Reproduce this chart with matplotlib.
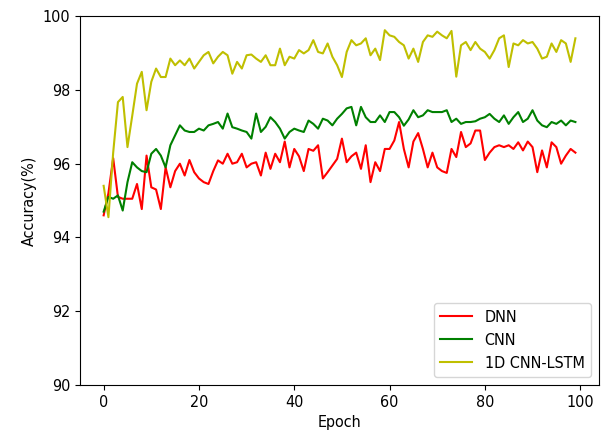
import numpy as np
import matplotlib
matplotlib.use("Agg")
import matplotlib.pyplot as plt

# =========================
# DATA (per epoch 0..99)
# =========================
epochs = np.arange(100)

dnn_acc = [
    94.60, 95.20, 96.15, 95.10, 95.05, 95.05, 95.05, 95.45, 94.77, 96.22,
    95.36, 95.30, 94.77, 95.90, 95.36, 95.80, 96.00, 95.68, 96.10, 95.77,
    95.60, 95.50, 95.45, 95.80, 96.09, 96.00, 96.27, 96.00, 96.04, 96.27,
    95.90, 96.00, 96.04, 95.68, 96.30, 95.86, 96.27, 96.04, 96.60, 95.90,
    96.40, 96.20, 95.80, 96.40, 96.35, 96.50, 95.60, 95.77, 95.95, 96.13,
    96.68, 96.04, 96.20, 96.30, 95.86, 96.50, 95.50, 96.04, 95.80, 96.40,
    96.40, 96.63, 97.13, 96.40, 95.90, 96.60, 96.83, 96.40, 95.90, 96.30,
    95.90, 95.80, 95.75, 96.40, 96.18, 96.86, 96.45, 96.55, 96.90, 96.90,
    96.10, 96.30, 96.45, 96.50, 96.45, 96.50, 96.40, 96.58, 96.36, 96.60,
    96.45, 95.77, 96.36, 95.90, 96.58, 96.45, 96.00, 96.22, 96.40, 96.30,
]

cnn_acc = [
    94.70, 95.10, 95.05, 95.14, 94.73, 95.50, 96.04, 95.90, 95.80, 95.77,
    96.27, 96.40, 96.22, 95.90, 96.50, 96.77, 97.04, 96.90, 96.86, 96.86,
    96.95, 96.90, 97.04, 97.08, 97.13, 96.95, 97.36, 96.99, 96.95, 96.90,
    96.86, 96.68, 97.36, 96.86, 97.00, 97.26, 97.13, 96.95, 96.68, 96.86,
    96.95, 96.90, 96.86, 97.17, 97.08, 96.95, 97.22, 97.17, 97.04, 97.22,
    97.35, 97.50, 97.54, 97.04, 97.54, 97.26, 97.13, 97.13, 97.31, 97.13,
    97.40, 97.40, 97.26, 97.03, 97.20, 97.45, 97.26, 97.31, 97.45, 97.40,
    97.40, 97.40, 97.45, 97.13, 97.22, 97.08, 97.13, 97.13, 97.15, 97.22,
    97.26, 97.35, 97.22, 97.13, 97.31, 97.08, 97.26, 97.40, 97.13, 97.22,
    97.45, 97.17, 97.04, 96.99, 97.13, 97.08, 97.17, 97.04, 97.17, 97.13,
]

cnn_lstm_acc = [
    95.40, 94.55, 96.30, 97.67, 97.81, 96.45, 97.30, 98.17, 98.49, 97.45,
    98.22, 98.58, 98.35, 98.35, 98.85, 98.67, 98.80, 98.67, 98.85, 98.58,
    98.76, 98.94, 99.03, 98.72, 98.90, 99.03, 98.94, 98.44, 98.76, 98.58,
    98.94, 98.96, 98.85, 98.76, 98.94, 98.67, 98.67, 99.12, 98.67, 98.90,
    98.85, 99.08, 98.99, 99.08, 99.35, 99.03, 98.99, 99.26, 98.90, 98.67,
    98.35, 99.03, 99.35, 99.21, 99.26, 99.40, 98.94, 99.12, 98.81, 99.62,
    99.48, 99.44, 99.30, 99.21, 98.85, 99.12, 98.76, 99.30, 99.48, 99.44,
    99.58, 99.48, 99.40, 99.60, 98.36, 99.21, 99.30, 99.08, 99.30, 99.12,
    99.03, 98.85, 99.08, 99.40, 99.48, 98.62, 99.26, 99.21, 99.35, 99.26,
    99.30, 99.12, 98.85, 98.90, 99.26, 99.03, 99.35, 99.26, 98.76, 99.40,
]

labels = ["DNN", "CNN", "1D CNN-LSTM"]
colors = ["r", "g", "y"]

# text in the reference looks a bit taller/narrower than the default
plt.rcParams["font.stretch"] = "condensed"
FS = 11.5

# =========================
# PLOT
# =========================
fig = plt.figure(figsize=(6.02, 4.37), dpi=100)
ax = fig.add_axes([0.133, 0.119, 0.862, 0.844])

for ys, lab, c in zip([dnn_acc, cnn_acc, cnn_lstm_acc], labels, colors):
    ax.plot(epochs, ys, color=c, label=lab, linewidth=1.5)

ax.set_ylim(90, 100)
ax.set_xlabel("Epoch", fontsize=FS)
ax.set_ylabel("Accuracy(%)", fontsize=FS)
ax.tick_params(labelsize=FS)
ax.legend(loc="lower right", fontsize=FS)

fig.savefig("out.png", dpi=100)
